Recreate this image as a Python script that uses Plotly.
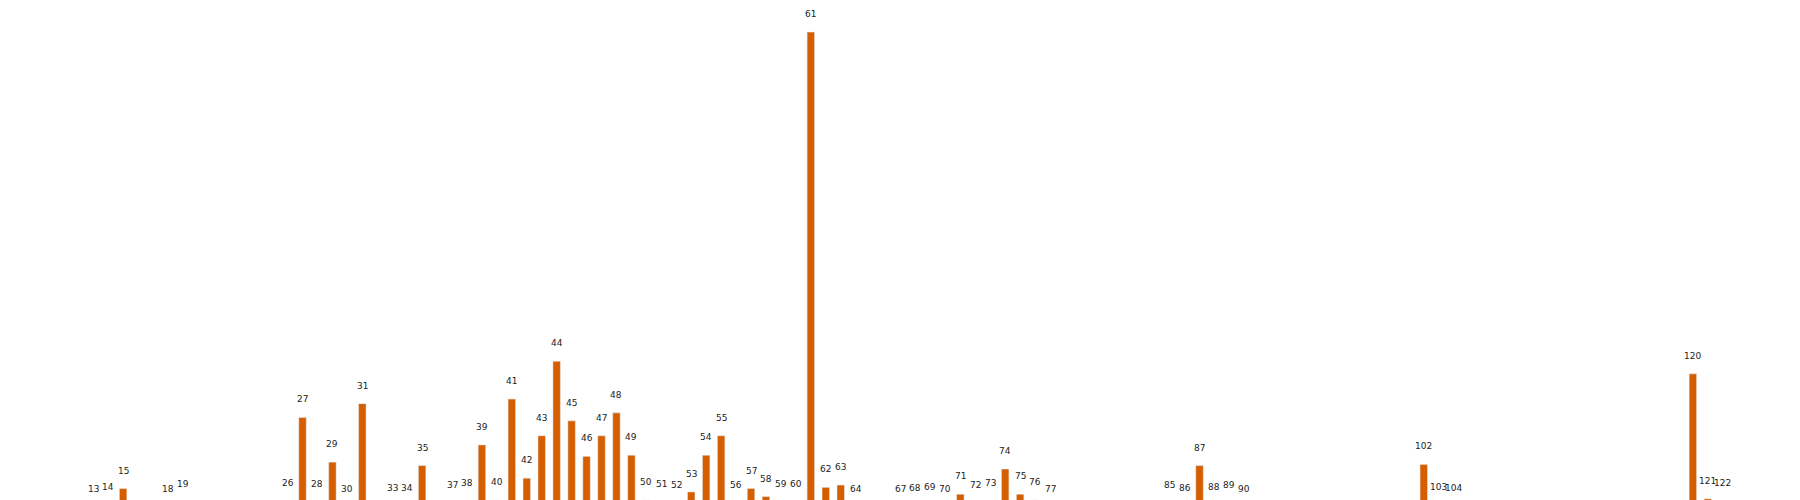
import plotly.graph_objects as go

# categorías y alturas
categorias = [13, 14, 15, 18, 19, 26, 27, 28, 29, 30, 31, 33, 34, 35, 37, 38, 39, 40,
              41, 42, 43, 44, 45, 46, 47, 48, 49, 50, 51, 52, 53, 54, 55, 56, 57, 58,
              59, 60, 61, 62, 63, 64, 67, 68, 69, 70, 71, 72, 73, 74, 75, 76, 77,
              85, 86, 87, 88, 89, 90, 102, 103, 104, 120, 121, 122]
valores = [1, 3, 17, 1, 5, 6, 79, 5, 40, 1, 91, 2, 2, 37, 4, 6, 55, 7,
           95, 26, 63, 128, 76, 45, 63, 83, 46, 7, 5, 4, 14, 46, 63, 4, 17, 10,
           5, 5, 415, 18, 20, 1, 1, 2, 3, 1, 12, 4, 6, 34, 12, 7, 1,
           4, 2, 37, 3, 4, 1, 38, 3, 2, 117, 8, 6]

fig = go.Figure(go.Bar(x=categorias, y=valores, width=0.5,
                       marker_color='#D55E00', hoverinfo='x+y'))

for c, v in zip(categorias, valores):
    fig.add_annotation(x=c, y=v, text=str(c), showarrow=False,
                       yanchor='bottom', yshift=11,
                       font=dict(size=9, color='#222', family='DejaVu Sans'))

fig.update_layout(
    width=1800, height=500,
    margin=dict(l=0, r=0, t=0, b=0),
    plot_bgcolor='white', paper_bgcolor='white',
    showlegend=False,
    xaxis=dict(range=[7.3, 127.7], visible=False),
    yaxis=dict(range=[0, 436], visible=False),
)

fig.write_html("out.html")
